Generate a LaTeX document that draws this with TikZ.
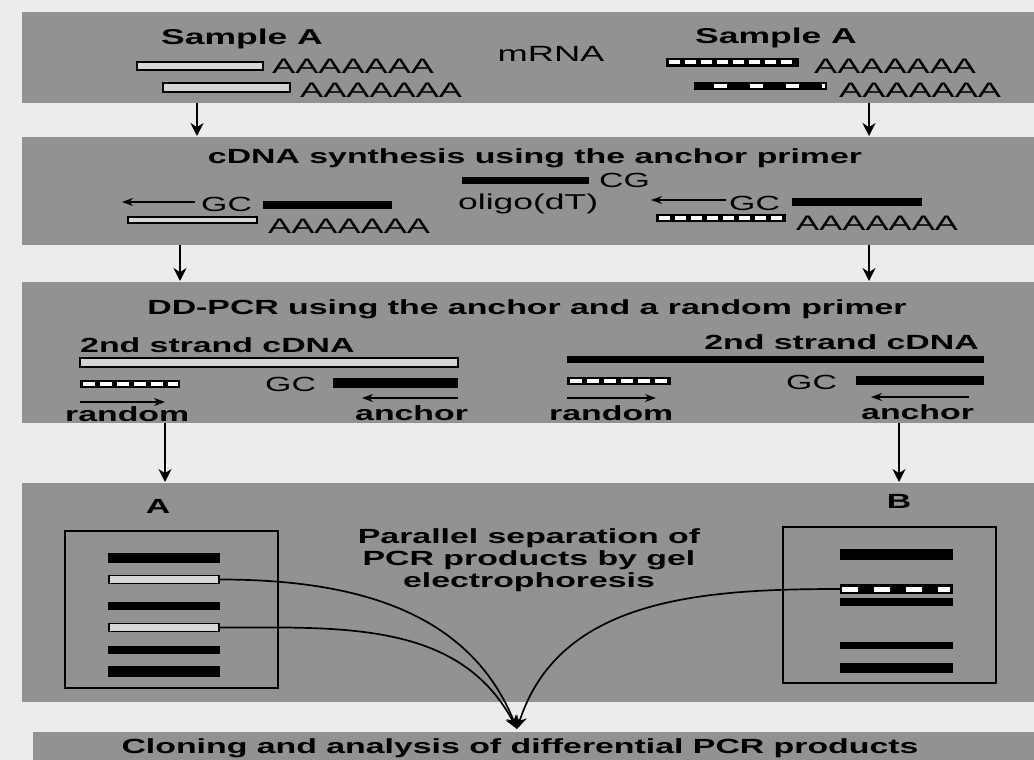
\documentclass[tikz,border=0pt]{standalone}
\usepackage{fontspec}
\setmainfont{Liberation Sans}[FakeStretch=1.65]
\usetikzlibrary{arrows.meta}
\definecolor{bandgray}{RGB}{146,146,146}
\definecolor{bggray}{RGB}{236,236,236}
\definecolor{strandfill}{RGB}{214,214,214}
\newcommand\dstrand[7]{%
  \fill[black] (#1,#2) rectangle (#3,#4);
  \draw[white, line width=#5, dash pattern=#6] ({#7},{(#2+#4)/2}) -- ({#3-2.5},{(#2+#4)/2});}
\begin{document}
\begin{tikzpicture}[x=1pt,y=-1pt,
  band/.style={fill=bandgray, draw=none},
  txt/.style={inner sep=0pt, font=\fontsize{20.5}{24}\selectfont},
  btxt/.style={inner sep=0pt, font=\fontsize{20.5}{24}\selectfont\bfseries},
  openstr/.style={draw=black, line width=1.4pt, fill=strandfill},
  solidstr/.style={fill=black},
  gelbox/.style={draw=black, line width=1.5pt, fill=none, inner sep=0pt, rectangle},
  gband/.style={rectangle, inner sep=0pt, minimum width=112pt, fill=black},
  gopen/.style={rectangle, inner sep=0pt, minimum width=110pt, draw=black, line width=1.4pt, fill=strandfill},
  flow/.style={line width=2pt, -{Stealth[length=13pt,width=13pt]}},
  primer/.style={line width=1.4pt, -{Stealth[length=11pt,width=8pt]}},
  merge/.style={line width=1.7pt, -{Stealth[length=13pt,width=12pt]}}
]
\useasboundingbox (0,0) rectangle (1034,760);
\fill[bggray] (0,0) rectangle (1034,760);

% ---------- bands ----------
\fill[band] (22,12) rectangle (1034,103);
\fill[band] (22,137) rectangle (1034,245);
\fill[band] (22,282) rectangle (1034,423);
\fill[band] (22,483) rectangle (1034,702);
\fill[band] (33,732) rectangle (1034,760);

% ---------- band 1: mRNA ----------
\node[btxt, anchor=base, font=\fontsize{21.5}{24}\selectfont\bfseries] (sampL) at (242,45) {Sample A};
\node[btxt, anchor=base, font=\fontsize{21.5}{24}\selectfont\bfseries] (sampR) at (776,44) {Sample A};
\node[txt, anchor=base, font=\fontsize{22}{24}\selectfont] (mrna) at (551,62) {mRNA};
\draw[openstr] (137,62) rectangle (263,70);
\node[txt, anchor=base west, font=\fontsize{21}{24}\selectfont] (polyL1) at (272,74) {AAAAAAA};
\draw[openstr] (163,83) rectangle (290,92);
\node[txt, anchor=base west, font=\fontsize{21}{24}\selectfont] (polyL2) at (300,97) {AAAAAAA};
\dstrand{666}{58}{799}{67}{4pt}{on 11pt off 5pt}{669}
\node[txt, anchor=base west, font=\fontsize{21}{24}\selectfont] (polyR1) at (814,74) {AAAAAAA};
\dstrand{694}{82}{827}{90}{4pt}{on 13pt off 23pt}{714}
\node[txt, anchor=base west, font=\fontsize{21}{24}\selectfont] (polyR2) at (839,98) {AAAAAAA};

\coordinate (f1Ls) at (197,103); \coordinate (f1Le) at (197,136);
\coordinate (f1Rs) at (869,103); \coordinate (f1Re) at (869,136);
\draw[flow] (f1Ls) -- (f1Le);
\draw[flow] (f1Rs) -- (f1Re);

% ---------- band 2: cDNA synthesis ----------
\node[btxt, anchor=base] (t2) at (535,163) {cDNA synthesis using the anchor primer};
\fill[solidstr] (462,177) rectangle (589,184);
\node[txt, anchor=base west] (cg) at (599,187) {CG};
\node[txt, anchor=base west, font=\fontsize{21.5}{24}\selectfont] (oligo) at (458,209) {oligo(dT)};
% left
\node[txt, anchor=base west] (gc2L) at (201,211) {GC};
\coordinate (p2Ls) at (195,202); \coordinate (p2Le) at (122,202);
\draw[primer] (p2Ls) -- (p2Le);
\fill[solidstr] (263,201) rectangle (392,209);
\draw[openstr] (128,217) rectangle (257,223);
\node[txt, anchor=base west, font=\fontsize{21}{24}\selectfont] (poly2L) at (268,233) {AAAAAAA};
% right
\node[txt, anchor=base west] (gc2R) at (729,210) {GC};
\coordinate (p2Rs) at (726,200); \coordinate (p2Re) at (651,200);
\draw[primer] (p2Rs) -- (p2Re);
\fill[solidstr] (792,198) rectangle (922,206);
\dstrand{656}{214}{786}{222}{3.5pt}{on 11pt off 5pt}{659}
\node[txt, anchor=base west, font=\fontsize{21}{24}\selectfont] (poly2R) at (796,230) {AAAAAAA};

\coordinate (f2Ls) at (180,245); \coordinate (f2Le) at (180,281);
\coordinate (f2Rs) at (869,245); \coordinate (f2Re) at (869,281);
\draw[flow] (f2Ls) -- (f2Le);
\draw[flow] (f2Rs) -- (f2Re);

% ---------- band 3: DD-PCR ----------
\node[btxt, anchor=base] (t3) at (527,314) {DD-PCR using the anchor and a random primer};
% left
\node[btxt, anchor=base west] (s2L) at (80,352) {2nd strand cDNA};
\draw[openstr] (80,358) rectangle (458,367);
\dstrand{80}{380}{180}{388}{3.5pt}{on 12pt off 5pt}{83}
\node[txt, anchor=base west] (gc3L) at (265,391) {GC};
\fill[solidstr] (333,378) rectangle (458,388);
\coordinate (rLs) at (80,402); \coordinate (rLe) at (165,402);
\draw[primer] (rLs) -- (rLe);
\coordinate (aLs) at (458,398); \coordinate (aLe) at (362,398);
\draw[primer] (aLs) -- (aLe);
\node[btxt, anchor=base west] (randL) at (65,421) {random};
\node[btxt, anchor=base west] (anchL) at (355,420) {anchor};
% right
\node[btxt, anchor=base east] (s2R) at (979,349) {2nd strand cDNA};
\fill[solidstr] (567,356) rectangle (984,363);
\dstrand{567}{377}{671}{385}{3.5pt}{on 12pt off 5pt}{570}
\node[txt, anchor=base west] (gc3R) at (786,389) {GC};
\fill[solidstr] (856,376) rectangle (984,385);
\coordinate (rRs) at (567,398); \coordinate (rRe) at (656,398);
\draw[primer] (rRs) -- (rRe);
\coordinate (aRs) at (969,397); \coordinate (aRe) at (871,397);
\draw[primer] (aRs) -- (aRe);
\node[btxt, anchor=base west] (randR) at (549,420) {random};
\node[btxt, anchor=base west] (anchR) at (861,419) {anchor};

\coordinate (f3Ls) at (165,423); \coordinate (f3Le) at (165,482);
\coordinate (f3Rs) at (899,423); \coordinate (f3Re) at (899,482);
\draw[flow] (f3Ls) -- (f3Le);
\draw[flow] (f3Rs) -- (f3Re);

% ---------- band 4: gel ----------
\node[btxt, anchor=base] (labA) at (158,513) {A};
\node[btxt, anchor=base] (labB) at (899,508) {B};
\node[gelbox, minimum width=213pt, minimum height=157pt] (gelA) at (171.5,609.5) {};
\node[gelbox, minimum width=213pt, minimum height=156pt] (gelB) at (889.5,605) {};
\node[gband, minimum height=10pt] (gA1) at (164,558) {};
\node[gopen, minimum height=8pt] (gA2) at (164,579.5) {};
\node[gband, minimum height=8pt] (gA3) at (164,605.5) {};
\node[gopen, minimum height=8pt] (gA4) at (164,627.5) {};
\node[gband, minimum height=8pt] (gA5) at (164,649.5) {};
\node[gband, minimum height=11pt] (gA6) at (164,671.5) {};
\node[gband, minimum width=113pt, minimum height=11pt] (gB1) at (896.5,554.5) {};
\node[gband, minimum width=113pt, minimum height=10pt] (gB2) at (896.5,589) {};
\draw[white, line width=5pt, dash pattern=on 16pt off 16pt] (842,589) -- (950,589);
\node[gband, minimum width=113pt, minimum height=8pt] (gB3) at (896.5,602) {};
\node[gband, minimum width=113pt, minimum height=7pt] (gB4) at (896.5,645.5) {};
\node[gband, minimum width=113pt, minimum height=10pt] (gB5) at (896.5,668) {};
\node[btxt, anchor=north, align=center, font=\fontsize{20.5}{22}\selectfont\bfseries] (par) at (529,528)
  {Parallel separation of\\PCR products by gel\\electrophoresis};

\coordinate (tip) at (517,729);
\draw[merge] (gA2.east) to[out=0, in=112] (tip);
\draw[merge] (gA4.east) to[out=0, in=118] (tip);
\draw[merge] (gB2.west) to[out=180, in=72] (tip);

% ---------- band 5 ----------
\node[btxt, anchor=base] (t5) at (520,753) {Cloning and analysis of differential PCR products};
\end{tikzpicture}
\end{document}
